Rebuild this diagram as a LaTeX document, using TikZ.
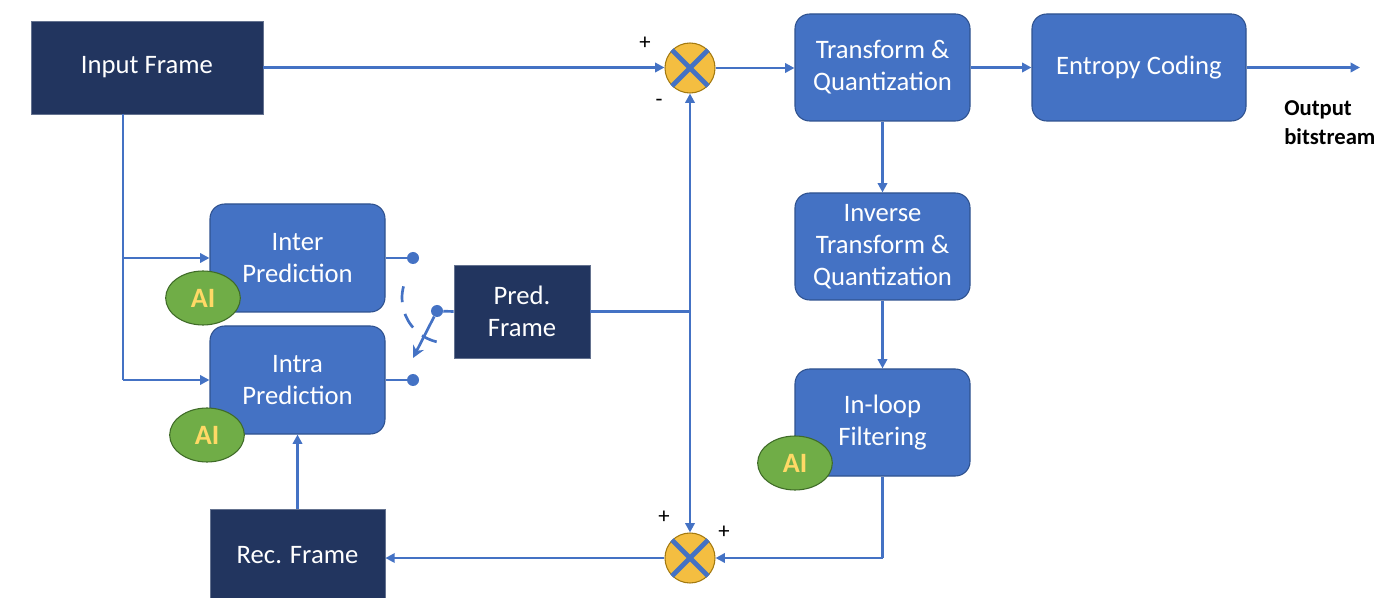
\documentclass[tikz,border=0pt]{standalone}
\usepackage{fontspec}
\setmainfont{Carlito}
\usetikzlibrary{arrows.meta,shapes.geometric,calc}
\definecolor{navy}{HTML}{22355F}
\definecolor{boxblue}{HTML}{4472C4}
\definecolor{boxedge}{HTML}{2F528F}
\definecolor{lineblue}{HTML}{4472C4}
\definecolor{aigreen}{HTML}{70AD47}
\definecolor{aiedge}{HTML}{3F6B28}
\definecolor{aiyellow}{HTML}{FFD966}
\definecolor{sumfill}{HTML}{F4BE41}
\definecolor{sumedge}{HTML}{A47A10}
\begin{document}
\begin{tikzpicture}[x=0.75pt,y=-0.75pt,
  blk/.style={rectangle, fill=navy, draw=navy!70!white, line width=0.6pt, text=white,
    font=\fontsize{20}{24}\selectfont, align=center, inner sep=0pt},
  proc/.style={rectangle, rounded corners=11pt, fill=boxblue, draw=boxedge, line width=0.8pt,
    text=white, font=\fontsize{20}{24}\selectfont, align=center, inner sep=0pt,
    minimum width=131.25pt, minimum height=80.25pt},
  aitag/.style={ellipse, fill=aigreen, draw=aiedge, line width=0.8pt, text=aiyellow,
    font=\bfseries\fontsize{21}{24}\selectfont, minimum width=56pt, minimum height=40.5pt, inner sep=0pt},
  sumnode/.style={circle, fill=sumfill, draw=sumedge, line width=0.8pt, minimum size=37.5pt, inner sep=0pt},
  conn/.style={draw=lineblue, line width=2pt},
  arr/.style={conn, -{Triangle[length=7pt,width=7pt]}},
  dotnode/.style={circle, fill=lineblue, minimum size=9pt, inner sep=0pt},
  sign/.style={font=\fontsize{17}{20}\selectfont, text=black, inner sep=0pt},
  xline/.style={draw=lineblue, line width=3.5pt}
]
\useasboundingbox (0,0) rectangle (1399,598);

% blocks
\node[blk, minimum width=174pt, minimum height=69.75pt] (inp) at (147,67.5) {Input Frame};
\node[proc] (tq) at (882.5,67.5) {Transform \&\\Quantization};
\node[proc, minimum width=160.5pt] (ec) at (1139,67.5) {Entropy Coding};
\node[proc] (itq) at (882.5,246.5) {Inverse\\Transform \&\\Quantization};
\node[proc] (ilf) at (882.5,422.5) {In-loop\\Filtering};
\node[proc, minimum height=81pt] (inter) at (297.5,258) {Inter\\Prediction};
\node[proc, minimum height=81pt] (intra) at (297.5,380) {Intra\\Prediction};
\node[blk, minimum width=102pt, minimum height=69.75pt] (pred) at (522,311.5) {Pred.\\Frame};
\node[blk, minimum width=131.25pt, minimum height=69pt] (rec) at (297.5,555) {Rec. Frame};

% AI tags
\node[aitag] (ai1) at (203,298) {AI};
\node[aitag] (ai2) at (207,435) {AI};
\node[aitag] (ai3) at (795,463) {AI};

% summing junctions
\node[sumnode] (s1) at (690,68) {};
\draw[xline] (s1.north west) -- (s1.south east);
\draw[xline] (s1.north east) -- (s1.south west);
\node[sumnode] (s2) at (690,558) {};
\draw[xline] (s2.north west) -- (s2.south east);
\draw[xline] (s2.north east) -- (s2.south west);

\node[sign] (p1) at (645,43) {+};
\node[sign] (m1) at (659,103) {-};
\node[sign] (p2) at (664,517) {+};
\node[sign] (p3) at (724,532) {+};

% output label
\node[font=\bfseries\fontsize{17}{21.75}\selectfont, align=left, anchor=north west, inner sep=0pt] (out) at (1284,100) {Output\\bitstream};

% main forward path
\draw[arr] (inp.east) -- (inp.east -| s1.west);
\draw[arr] (s1.east) -- (s1.east -| tq.west);
\draw[arr] (tq.east) -- (ec.west);
\coordinate (oend) at (1360,67.5);
\draw[arr] (ec.east) -- (oend);
\draw[arr] (tq.south) -- (itq.north);
\draw[arr] (itq.south) -- (ilf.north);
\coordinate (c1) at (ilf.south |- s2);
\draw[conn] (ilf.south) -- (c1);
\draw[arr] (c1) -- (s2.east);
\draw[arr] (s2.west) -- (s2.west -| rec.east);
\draw[arr] (rec.north) -- (intra.south);

% input to predictions
\coordinate (v1) at (123,258);
\coordinate (v2) at (123,380);
\draw[conn] (inp.south -| v1) -- (v2);
\draw[arr] (v1) -- (inter.west);
\draw[arr] (v2) -- (intra.west);

% switch
\node[dotnode] (d1) at (413,258) {};
\node[dotnode] (d2) at (413,380) {};
\node[dotnode] (d3) at (437,311) {};
\draw[conn] (inter.east) -- (d1);
\draw[conn] (intra.east) -- (d2);
\draw[conn] (pred.west) -- (d3);
\coordinate (sw) at (413,358);
\draw[conn, -{Stealth[length=9pt,width=9pt]}] (d3) -- (sw);
\coordinate (arcc) at (447,298);
\draw[draw=lineblue, line width=2pt, dash pattern=on 12pt off 9pt]
  ($(arcc)+(195:45)$) arc[start angle=195, end angle=100, radius=45];

% prediction feed
\coordinate (j) at (690,311.5);
\draw[conn] (pred.east) -- (j);
\draw[arr] (j) -- (s1.south);
\draw[arr] (j) -- (s2.north);
\end{tikzpicture}
\end{document}
